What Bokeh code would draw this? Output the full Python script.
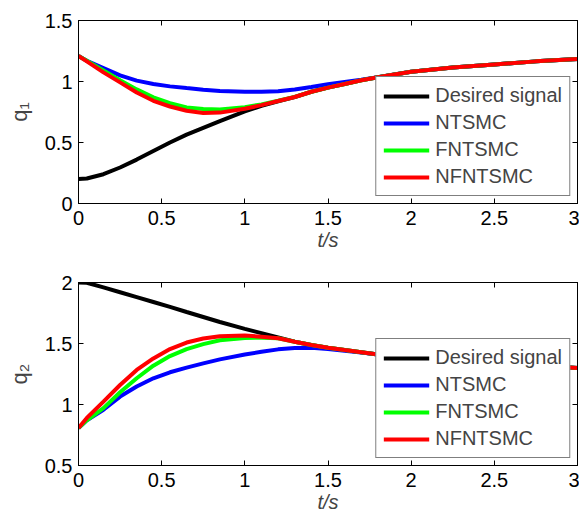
from bokeh.plotting import figure
from bokeh.layouts import column
from bokeh.models import Range1d, LinearAxis, FixedTicker, Legend, LegendItem
from bokeh.embed import file_html
from bokeh.resources import INLINE

# ---- data ----
t = [0, 0.05, 0.15, 0.25, 0.35, 0.45, 0.55, 0.65, 0.75, 0.85, 1.0, 1.1, 1.2,
     1.3, 1.4, 1.5, 1.6, 1.7, 1.8, 2.0, 2.25, 2.5, 2.75, 3.0]

q1_desired = [0.20, 0.205, 0.24, 0.295, 0.36, 0.43, 0.50, 0.565, 0.62, 0.675, 0.755, 0.80, 0.838,
              0.872, 0.916, 0.95, 0.98, 1.01, 1.035, 1.08, 1.115, 1.14, 1.165, 1.185]
q1_ntsmc = [1.21, 1.17, 1.11, 1.05, 1.007, 0.98, 0.96, 0.946, 0.933, 0.922, 0.916, 0.915, 0.92,
            0.935, 0.955, 0.978, 0.997, 1.015, 1.035, 1.08, 1.115, 1.14, 1.165, 1.185]
q1_fntsmc = [1.21, 1.17, 1.09, 1.01, 0.935, 0.87, 0.823, 0.787, 0.774, 0.771, 0.79, 0.812, 0.842,
             0.874, 0.916, 0.95, 0.98, 1.01, 1.035, 1.08, 1.115, 1.14, 1.165, 1.185]
q1_nfntsmc = [1.21, 1.165, 1.075, 0.993, 0.91, 0.842, 0.795, 0.76, 0.741, 0.745, 0.777, 0.806, 0.84,
              0.873, 0.916, 0.95, 0.98, 1.01, 1.035, 1.08, 1.115, 1.14, 1.165, 1.185]

q2_desired = [2.0, 1.998, 1.96, 1.92, 1.88, 1.84, 1.80, 1.758, 1.717, 1.676, 1.62, 1.585, 1.55,
              1.515, 1.488, 1.465, 1.446, 1.428, 1.41, 1.39, 1.365, 1.345, 1.32, 1.30]
q2_ntsmc = [0.807, 0.87, 0.957, 1.065, 1.147, 1.215, 1.264, 1.302, 1.337, 1.37, 1.41, 1.432, 1.452,
            1.463, 1.465, 1.455, 1.44, 1.427, 1.41, 1.39, 1.365, 1.345, 1.32, 1.30]
q2_fntsmc = [0.807, 0.87, 0.97, 1.10, 1.215, 1.318, 1.397, 1.454, 1.495, 1.527, 1.546, 1.548, 1.543,
             1.515, 1.488, 1.465, 1.446, 1.428, 1.41, 1.39, 1.365, 1.345, 1.32, 1.30]
q2_nfntsmc = [0.807, 0.89, 1.024, 1.16, 1.283, 1.378, 1.454, 1.508, 1.541, 1.56, 1.565, 1.556, 1.543,
              1.515, 1.488, 1.465, 1.446, 1.428, 1.41, 1.39, 1.365, 1.345, 1.32, 1.30]

series_names = ["Desired signal", "NTSMC", "FNTSMC", "NFNTSMC"]
series_colors = ["#000000", "#0000ff", "#00ff00", "#ff0000"]

x_ticks = [0, 0.5, 1, 1.5, 2, 2.5, 3]
x_tick_labels = ["0", "0.5", "1", "1.5", "2", "2.5", "3"]
y1_ticks = [0, 0.5, 1, 1.5]
y1_tick_labels = ["0", "0.5", "1", "1.5"]
y2_ticks = [0.5, 1, 1.5, 2]
y2_tick_labels = ["0.5", "1", "1.5", "2"]

FONT = "Liberation Sans"
FS = "20px"


def style_axis(ax, ticks, labels, show_labels=True, standoff=5):
    ax.ticker = FixedTicker(ticks=ticks)
    ax.major_label_overrides = {tk: lb for tk, lb in zip(ticks, labels)}
    ax.major_tick_in = 5
    ax.major_tick_out = 0
    ax.minor_tick_line_color = None
    ax.axis_line_color = "black"
    ax.major_tick_line_color = "black"
    ax.major_label_text_font = FONT
    ax.major_label_text_color = "black"
    if show_labels:
        ax.major_label_text_font_size = FS
        ax.major_label_standoff = standoff
    else:
        ax.major_label_text_font_size = "0px"
        ax.major_label_standoff = 0


def make_panel(ys, yr, yticks, ylabels, ylab, top_border, bottom_border):
    p = figure(output_backend="svg", toolbar_location=None,
               frame_width=499, frame_height=183,
               min_border_left=78, min_border_right=2,
               min_border_top=top_border, min_border_bottom=bottom_border,
               x_range=Range1d(0, 3), y_range=Range1d(*yr),
               x_axis_label="t/s", y_axis_label=ylab)
    p.grid.visible = False
    p.outline_line_color = "black"
    p.background_fill_color = "white"
    p.border_fill_color = "white"

    style_axis(p.xaxis[0], x_ticks, x_tick_labels, standoff=7)
    style_axis(p.yaxis[0], yticks, ylabels, standoff=6)
    p.xaxis[0].axis_label_text_font = FONT
    p.xaxis[0].axis_label_text_font_style = "italic"
    p.xaxis[0].axis_label_text_font_size = FS
    p.xaxis[0].axis_label_standoff = 1
    p.yaxis[0].axis_label_text_font = FONT
    p.yaxis[0].axis_label_text_font_style = "normal"
    p.yaxis[0].axis_label_text_font_size = "22px"
    p.yaxis[0].axis_label_standoff = 10

    top_ax = LinearAxis()
    style_axis(top_ax, x_ticks, x_tick_labels, show_labels=False)
    p.add_layout(top_ax, "above")
    right_ax = LinearAxis()
    style_axis(right_ax, yticks, ylabels, show_labels=False)
    p.add_layout(right_ax, "right")

    items = []
    for name, color, y in zip(series_names, series_colors, ys):
        r = p.line(t, y, line_color=color, line_width=4)
        items.append(LegendItem(label=name, renderers=[r]))

    leg = Legend(items=items, location="bottom_right")
    leg.label_text_font = FONT
    leg.label_text_font_size = FS
    leg.glyph_width = 46
    leg.glyph_height = 20
    leg.label_height = 20
    leg.spacing = 4
    leg.padding = 7
    leg.margin = 7
    leg.label_standoff = 6
    leg.border_line_color = "black"
    leg.border_line_width = 1
    leg.background_fill_alpha = 1
    p.add_layout(leg, "center")
    return p


p1 = make_panel([q1_desired, q1_ntsmc, q1_fntsmc, q1_nfntsmc], (0, 1.5),
                y1_ticks, y1_tick_labels, "q\u2081", 20, 53)
p2 = make_panel([q2_desired, q2_ntsmc, q2_fntsmc, q2_nfntsmc], (0.5, 2.0),
                y2_ticks, y2_tick_labels, "q\u2082", 26, 47)

layout = column(p1, p2, spacing=0)
open("out.html", "w").write(file_html(layout, INLINE))
